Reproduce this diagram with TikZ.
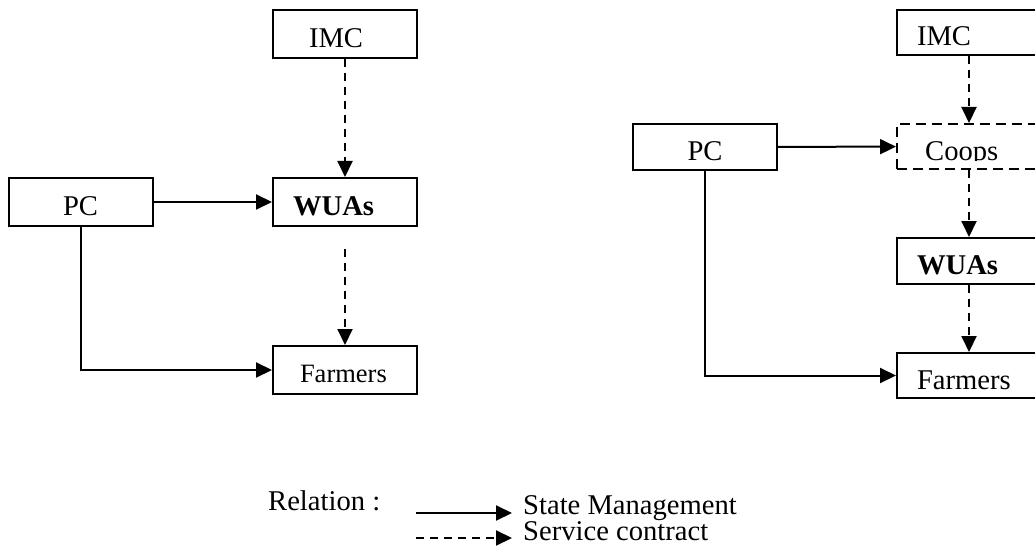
\documentclass[tikz,border=0pt]{standalone}
\usepackage{fontspec}
\setmainfont{Liberation Serif}
\usetikzlibrary{arrows.meta}
\begin{document}
\begin{tikzpicture}[x=1pt,y=-1pt,
  lw/.style={line width=2pt},
  box/.style={draw, lw, minimum width=144pt, minimum height=#1, inner ysep=0pt,
    inner xsep=20pt, text width=104pt, align=left, text height=27pt, text depth=0pt,
    font=\fontsize{28.6}{30}\selectfont},
  box/.default=48pt,
  dbox/.style={box=#1, dash pattern=on 10pt off 6pt},
  sm/.style={lw, -{Triangle[length=16pt,width=15pt]}},
  sc/.style={sm, dash pattern=on 8pt off 6pt},
  txt/.style={inner sep=0pt, anchor=base west, font=\fontsize{28.6}{30}\selectfont}
]
\clip (0,0) rectangle (1035,548);
% ---------- left diagram ----------
\node[box] (imcL) at (345,34) {\hspace*{16pt}IMC};
\node[box] (pcL) at (81,202) {\hspace*{34pt}PC};
\node[box] (wuasL) at (345,202) {\textbf{WUAs}};
\node[box, font=\fontsize{26.5}{28}\selectfont, text height=25pt] (farmersL) at (345,370) {\hspace*{7pt}Farmers};
\draw[sc] (imcL) -- (wuasL);
\draw[sm] (pcL) -- (wuasL);
\draw[sc, shorten <=22pt] (wuasL) -- (farmersL);
\draw[sm] (pcL.south) |- (farmersL.west);
% ---------- right diagram ----------
\node[box=45pt] (imcR) at (969,32.5) {IMC};
\node[box=46pt] (pcR) at (704.5,147) {\hspace*{35pt}PC};
\node[dbox=45pt] (coops) at (969,146.5) {};
\begin{scope}
  \clip (897,124) rectangle (1041,160.5);
  \node[txt] (coopsText) at (925,161) {Coops};
\end{scope}
\node[box=46pt] (wuasR) at (969,261) {\textbf{WUAs}};
\node[box=45pt] (farmersR) at (969,375.5) {Farmers};
\draw[sc] (imcR) -- (coops);
\draw[sm] (pcR) -- (coops);
\draw[sc] (coops) -- (wuasR);
\draw[sc] (wuasR) -- (farmersR);
\draw[sm] (pcR.south) |- (farmersR.west);
% ---------- legend ----------
\node[txt] (relation) at (268,510) {Relation :};
\node[txt] (stateM) at (523,514) {State Management};
\node[txt] (serviceC) at (523,540) {Service contract};
\coordinate (smA) at (416,513);
\coordinate (smB) at (512,513);
\coordinate (scA) at (416,538);
\coordinate (scB) at (512,538);
\draw[sm] (smA) -- (smB);
\draw[sc] (scA) -- (scB);
\end{tikzpicture}
\end{document}
